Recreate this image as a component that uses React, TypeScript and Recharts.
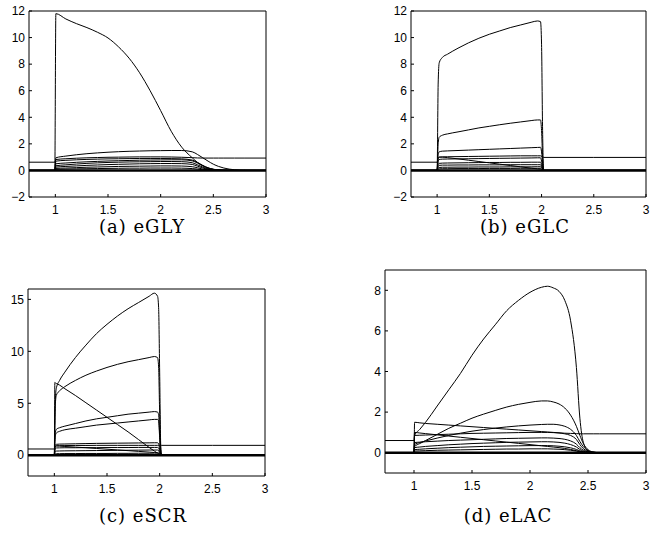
import React from "react";
import { LineChart, Line, XAxis, YAxis, ReferenceLine } from "recharts";

// ---------- shared ticks ----------
const X_TICKS = [1, 1.5, 2, 2.5, 3];
const Y_TICKS_A = [-2, 0, 2, 4, 6, 8, 10, 12];
const Y_TICKS_B = [-2, 0, 2, 4, 6, 8, 10, 12];
const Y_TICKS_C = [0, 5, 10, 15];
const Y_TICKS_D = [0, 2, 4, 6, 8];

// ---------- (a) eGLY ----------
const tA = [0.75, 0.995, 1.005, 1.1, 1.2, 1.3, 1.4, 1.5, 1.6, 1.7, 1.8, 1.9, 2.0, 2.1, 2.2, 2.3, 2.35, 2.4, 2.45, 2.5, 2.55, 2.6, 2.7, 2.8, 3.0];
const aBig = [0, 0, 11.8, 11.4, 11.05, 10.75, 10.4, 9.97, 9.3, 8.45, 7.35, 6.0, 4.5, 2.95, 1.75, 0.95, 0.6, 0.35, 0.18, 0.08, 0.03, 0.01, 0, 0, 0];
const aTop = [0, 0, 0.95, 1.08, 1.18, 1.26, 1.32, 1.37, 1.41, 1.44, 1.46, 1.48, 1.49, 1.5, 1.5, 1.4, 1.2, 0.95, 0.7, 0.47, 0.3, 0.18, 0.05, 0.01, 0];
const aRef = [0.62, 0.62, 0.82, 0.88, 0.92, 0.95, 0.97, 0.99, 1.0, 1.01, 1.02, 1.02, 1.02, 1.01, 0.99, 0.96, 0.94, 0.93, 0.93, 0.93, 0.93, 0.93, 0.93, 0.93, 0.93];
const a2 = [0, 0, 0.7, 0.76, 0.8, 0.83, 0.85, 0.87, 0.88, 0.89, 0.9, 0.9, 0.9, 0.89, 0.87, 0.78, 0.6, 0.38, 0.2, 0.09, 0.04, 0.01, 0, 0, 0];
const a3 = [0, 0, 0.5, 0.56, 0.61, 0.65, 0.68, 0.71, 0.73, 0.75, 0.77, 0.78, 0.79, 0.8, 0.8, 0.72, 0.55, 0.35, 0.18, 0.08, 0.03, 0.01, 0, 0, 0];
const a4 = [0, 0, 0.35, 0.42, 0.48, 0.53, 0.57, 0.6, 0.62, 0.64, 0.65, 0.66, 0.67, 0.67, 0.66, 0.58, 0.42, 0.25, 0.12, 0.05, 0.02, 0, 0, 0, 0];
const a5 = [0, 0, 0.25, 0.3, 0.34, 0.38, 0.41, 0.44, 0.46, 0.48, 0.5, 0.51, 0.52, 0.52, 0.51, 0.45, 0.32, 0.18, 0.08, 0.03, 0.01, 0, 0, 0, 0];
const a6 = [0, 0, 0.15, 0.18, 0.21, 0.24, 0.26, 0.28, 0.3, 0.31, 0.32, 0.33, 0.34, 0.34, 0.33, 0.28, 0.2, 0.1, 0.04, 0.01, 0, 0, 0, 0, 0];
const a7 = [0, 0, 0.08, 0.1, 0.12, 0.13, 0.14, 0.15, 0.16, 0.17, 0.17, 0.18, 0.18, 0.18, 0.17, 0.14, 0.1, 0.05, 0.02, 0, 0, 0, 0, 0, 0];

// ---------- (b) eGLC ----------
const tB = [0.75, 1.0, 1.01, 1.02, 1.05, 1.1, 1.2, 1.3, 1.4, 1.5, 1.6, 1.7, 1.8, 1.9, 1.96, 1.99, 2.0, 2.01, 2.02, 2.5, 3.0];
const bBig = [0, 0, 6.5, 8.1, 8.5, 8.75, 9.2, 9.6, 9.95, 10.25, 10.5, 10.75, 10.95, 11.15, 11.25, 11.2, 9.5, 3, 0, 0, 0];
const b2 = [0, 0, 2.0, 2.5, 2.65, 2.75, 2.9, 3.05, 3.2, 3.32, 3.44, 3.55, 3.65, 3.75, 3.8, 3.8, 3.0, 1.0, 0, 0, 0];
const b3 = [0, 0, 1.2, 1.4, 1.45, 1.47, 1.5, 1.53, 1.56, 1.59, 1.62, 1.65, 1.68, 1.71, 1.73, 1.74, 1.4, 0.5, 0, 0, 0];
const bDiag = [0, 0, 0.95, 1.0, 1.0, 0.96, 0.87, 0.77, 0.67, 0.57, 0.47, 0.37, 0.27, 0.17, 0.12, 0.1, 0.06, 0.02, 0, 0, 0];
const bRef = [0.62, 0.62, 0.9, 1.0, 1.02, 1.03, 1.04, 1.05, 1.06, 1.07, 1.08, 1.09, 1.1, 1.1, 1.1, 1.1, 1.05, 1.0, 0.98, 0.98, 0.98];
const b6 = [0, 0, 0.7, 0.82, 0.85, 0.86, 0.87, 0.88, 0.89, 0.9, 0.91, 0.92, 0.93, 0.94, 0.95, 0.95, 0.7, 0.2, 0, 0, 0];
const b7 = [0, 0, 0.45, 0.53, 0.55, 0.56, 0.57, 0.58, 0.59, 0.6, 0.6, 0.61, 0.61, 0.62, 0.62, 0.62, 0.45, 0.15, 0, 0, 0];
const b8 = [0, 0, 0.3, 0.38, 0.4, 0.4, 0.41, 0.41, 0.42, 0.42, 0.42, 0.43, 0.43, 0.43, 0.43, 0.43, 0.3, 0.1, 0, 0, 0];
const b9 = [0, 0, 0.18, 0.22, 0.24, 0.24, 0.25, 0.25, 0.26, 0.26, 0.26, 0.27, 0.27, 0.27, 0.28, 0.28, 0.2, 0.06, 0, 0, 0];
const b10 = [0, 0, 0.1, 0.12, 0.13, 0.13, 0.14, 0.14, 0.14, 0.15, 0.15, 0.15, 0.16, 0.16, 0.16, 0.16, 0.1, 0.03, 0, 0, 0];

// ---------- (c) eSCR ----------
const tC = [0.75, 1.0, 1.005, 1.01, 1.02, 1.05, 1.1, 1.2, 1.3, 1.4, 1.5, 1.6, 1.7, 1.8, 1.9, 1.95, 1.98, 1.99, 2.0, 2.01, 2.02, 2.5, 3.0];
const cBig = [0, 0, 3.0, 5.5, 6.5, 7.2, 8.0, 9.4, 10.6, 11.7, 12.6, 13.4, 14.1, 14.7, 15.3, 15.6, 15.3, 14.2, 8, 1, 0, 0, 0];
const c2 = [0, 0, 3.0, 5.0, 5.8, 6.2, 6.6, 7.2, 7.7, 8.1, 8.45, 8.75, 9.0, 9.2, 9.4, 9.5, 9.4, 8.5, 4, 0.5, 0, 0, 0];
const cDiag = [0, 0, 7.0, 6.95, 6.9, 6.75, 6.4, 5.75, 5.05, 4.35, 3.65, 2.95, 2.25, 1.5, 0.75, 0.4, 0.2, 0.12, 0.05, 0.02, 0, 0, 0];
const c3 = [0, 0, 1.5, 2.2, 2.5, 2.65, 2.8, 3.05, 3.3, 3.5, 3.65, 3.8, 3.95, 4.05, 4.15, 4.2, 4.15, 3.9, 2, 0.2, 0, 0, 0];
const c4 = [0, 0, 1.3, 1.9, 2.15, 2.3, 2.45, 2.6, 2.75, 2.9, 3.0, 3.1, 3.2, 3.3, 3.4, 3.45, 3.45, 3.3, 1.7, 0.2, 0, 0, 0];
const c5 = [0, 0, 0.8, 1.0, 1.05, 1.07, 1.08, 1.1, 1.12, 1.14, 1.15, 1.16, 1.17, 1.18, 1.19, 1.2, 1.2, 1.1, 0.6, 0.05, 0, 0, 0];
const cRef = [0.6, 0.6, 0.75, 0.85, 0.9, 0.92, 0.93, 0.94, 0.94, 0.95, 0.95, 0.95, 0.95, 0.95, 0.95, 0.95, 0.95, 0.95, 0.95, 0.95, 0.95, 0.95, 0.95];
const c7 = [0, 0, 0.5, 0.65, 0.7, 0.71, 0.72, 0.72, 0.73, 0.73, 0.74, 0.74, 0.74, 0.75, 0.75, 0.75, 0.75, 0.7, 0.35, 0.03, 0, 0, 0];
const c8 = [0, 0, 0.6, 0.85, 0.9, 0.88, 0.84, 0.78, 0.72, 0.65, 0.58, 0.51, 0.44, 0.37, 0.3, 0.26, 0.24, 0.22, 0.1, 0.01, 0, 0, 0];
const c9 = [0, 0, 0.25, 0.38, 0.4, 0.41, 0.42, 0.43, 0.44, 0.45, 0.46, 0.47, 0.48, 0.49, 0.5, 0.5, 0.5, 0.45, 0.2, 0.02, 0, 0, 0];
const c10 = [0, 0, 0.1, 0.14, 0.15, 0.15, 0.16, 0.16, 0.17, 0.17, 0.17, 0.18, 0.18, 0.19, 0.19, 0.2, 0.2, 0.18, 0.08, 0.01, 0, 0, 0];

// ---------- (d) eLAC ----------
const tD = [0.75, 1.0, 1.005, 1.05, 1.1, 1.2, 1.3, 1.4, 1.5, 1.6, 1.7, 1.8, 1.9, 2.0, 2.1, 2.15, 2.2, 2.25, 2.3, 2.35, 2.4, 2.43, 2.46, 2.5, 2.55, 2.6, 3.0];
const dBig = [0, 0, 0.85, 1.15, 1.5, 2.3, 3.1, 3.9, 4.8, 5.6, 6.3, 7.0, 7.5, 7.9, 8.15, 8.2, 8.12, 7.95, 7.5, 6.5, 4.2, 1.7, 0.5, 0.1, 0.02, 0, 0];
const d2 = [0, 0, 0.3, 0.45, 0.6, 0.9, 1.2, 1.45, 1.7, 1.9, 2.08, 2.25, 2.38, 2.48, 2.55, 2.55, 2.5, 2.4, 2.2, 1.85, 1.3, 0.85, 0.45, 0.15, 0.03, 0, 0];
const d3 = [0, 0, 0.4, 0.5, 0.58, 0.72, 0.85, 0.96, 1.06, 1.14, 1.21, 1.27, 1.32, 1.36, 1.39, 1.4, 1.4, 1.37, 1.3, 1.15, 0.85, 0.55, 0.3, 0.1, 0.02, 0, 0];
const dDesc = [0, 0, 1.5, 1.47, 1.44, 1.4, 1.36, 1.32, 1.28, 1.24, 1.2, 1.16, 1.12, 1.08, 1.04, 1.02, 1.0, 0.98, 0.96, 0.95, 0.94, 0.93, 0.93, 0.93, 0.93, 0.93, 0.93];
const dRef = [0.6, 0.6, 1.0, 0.97, 0.94, 0.88, 0.82, 0.76, 0.7, 0.64, 0.58, 0.52, 0.46, 0.4, 0.34, 0.31, 0.28, 0.25, 0.21, 0.16, 0.1, 0.06, 0.03, 0.01, 0, 0, 0];
const d6 = [0, 0, 0.85, 0.86, 0.87, 0.89, 0.91, 0.93, 0.95, 0.96, 0.97, 0.98, 0.99, 1.0, 1.0, 1.0, 0.99, 0.97, 0.93, 0.85, 0.65, 0.4, 0.2, 0.06, 0.01, 0, 0];
const d7 = [0, 0, 0.5, 0.52, 0.54, 0.57, 0.6, 0.62, 0.64, 0.66, 0.68, 0.7, 0.71, 0.72, 0.73, 0.73, 0.72, 0.7, 0.66, 0.58, 0.42, 0.25, 0.12, 0.04, 0.01, 0, 0];
const d8 = [0, 0, 0.25, 0.28, 0.31, 0.35, 0.39, 0.42, 0.45, 0.47, 0.49, 0.51, 0.52, 0.53, 0.54, 0.54, 0.53, 0.51, 0.47, 0.4, 0.28, 0.16, 0.07, 0.02, 0, 0, 0];
const d9 = [0, 0, 0.15, 0.17, 0.19, 0.22, 0.25, 0.27, 0.29, 0.31, 0.32, 0.33, 0.34, 0.35, 0.35, 0.35, 0.34, 0.32, 0.29, 0.24, 0.16, 0.09, 0.04, 0.01, 0, 0, 0];
const d10 = [0, 0, 0.08, 0.09, 0.1, 0.12, 0.13, 0.14, 0.15, 0.16, 0.17, 0.18, 0.18, 0.19, 0.19, 0.19, 0.18, 0.17, 0.15, 0.12, 0.08, 0.04, 0.02, 0, 0, 0, 0];

type Box = { x: number; y: number; w: number; h: number };

const TICK_STYLE = { fontFamily: "'Liberation Sans', Arial, sans-serif", fontSize: 12, fill: "#000" };
const fmt = (v: number) => String(v).replace("-", "\u2212");
const AXIS_LINE = { stroke: "#000", strokeWidth: 1 };
const TICK_LINE = { stroke: "#000", strokeWidth: 1 };

function Panel(props: {
  box: Box;
  t: number[];
  series: number[][];
  yDomain: [number, number];
  yTicks: number[];
  title: string;
  titleX: number;
  titleY: number;
}) {
  const { box, t, series, yDomain, yTicks, title, titleX, titleY } = props;
  // outer margins; bottom and left axes each take 1px
  const L = 40, T = 12, R = 12, B = 30;
  const rows = t.map((x, i) => {
    const r: Record<string, number> = { t: x };
    series.forEach((s, k) => {
      r["s" + k] = s[i];
    });
    return r;
  });
  return (
    <>
      <div style={{ position: "absolute", left: box.x - L, top: box.y - T }}>
        <LineChart
          width={box.w + L + R}
          height={box.h + T + B}
          data={rows}
          margin={{ top: T, right: R, bottom: B - 1, left: L - 1 }}
        >
          <XAxis
            xAxisId="b"
            dataKey="t"
            type="number"
            domain={[0.75, 3]}
            allowDataOverflow
            ticks={X_TICKS}
            height={1}
            tickSize={-3}
            tickMargin={11}
            tick={TICK_STYLE}
            tickFormatter={fmt}
            axisLine={AXIS_LINE}
            tickLine={TICK_LINE}
            interval={0}
          />
          <XAxis
            xAxisId="t"
            dataKey="t"
            type="number"
            orientation="top"
            mirror
            domain={[0.75, 3]}
            allowDataOverflow
            ticks={X_TICKS}
            height={1}
            tickSize={3}
            tick={false}
            axisLine={AXIS_LINE}
            tickLine={TICK_LINE}
            interval={0}
          />
          <YAxis
            yAxisId="l"
            type="number"
            domain={yDomain}
            allowDataOverflow
            ticks={yTicks}
            width={1}
            tickSize={-3}
            tickMargin={7}
            tick={TICK_STYLE}
            tickFormatter={fmt}
            axisLine={AXIS_LINE}
            tickLine={TICK_LINE}
            interval={0}
          />
          <YAxis
            yAxisId="r"
            type="number"
            orientation="right"
            mirror
            domain={yDomain}
            allowDataOverflow
            ticks={yTicks}
            width={1}
            tickSize={3}
            tick={false}
            axisLine={AXIS_LINE}
            tickLine={TICK_LINE}
            interval={0}
          />
          <ReferenceLine xAxisId="b" yAxisId="l" y={0} stroke="#000" strokeWidth={2.5} />
          {series.map((_, k) => (
            <Line
              key={k}
              xAxisId="b"
              yAxisId="l"
              dataKey={"s" + k}
              type="monotone"
              stroke="#000"
              strokeWidth={1}
              dot={false}
              activeDot={false}
              isAnimationActive={false}
            />
          ))}
        </LineChart>
      </div>
      <div
        style={{
          position: "absolute",
          left: titleX - 100,
          width: 200,
          top: titleY,
          textAlign: "center",
          fontFamily: "'DejaVu Serif', serif",
          fontSize: 18,
          letterSpacing: 1,
          lineHeight: "20px",
          color: "#000",
          whiteSpace: "nowrap",
        }}
      >
        {title}
      </div>
    </>
  );
}

export default function App() {
  return (
    <div style={{ position: "absolute", left: 0, top: 0, width: 663, height: 536, background: "#fff", overflow: "hidden" }}>
      <Panel
        box={{ x: 29, y: 11, w: 237, h: 186 }}
        t={tA}
        series={[aBig, aTop, aRef, a2, a3, a4, a5, a6, a7]}
        yDomain={[-2, 12]}
        yTicks={Y_TICKS_A}
        title="(a) eGLY"
        titleX={142}
        titleY={217}
      />
      <Panel
        box={{ x: 411, y: 11, w: 235, h: 186 }}
        t={tB}
        series={[bBig, b2, b3, bDiag, bRef, b6, b7, b8, b9, b10]}
        yDomain={[-2, 12]}
        yTicks={Y_TICKS_B}
        title="(b) eGLC"
        titleX={525}
        titleY={217}
      />
      <Panel
        box={{ x: 28, y: 289, w: 237, h: 187 }}
        t={tC}
        series={[cBig, c2, cDiag, c3, c4, c5, cRef, c7, c8, c9, c10]}
        yDomain={[-2, 16]}
        yTicks={Y_TICKS_C}
        title="(c) eSCR"
        titleX={143}
        titleY={506}
      />
      <Panel
        box={{ x: 385, y: 270, w: 261, h: 203 }}
        t={tD}
        series={[dBig, d2, d3, dDesc, dRef, d6, d7, d8, d9, d10]}
        yDomain={[-1, 9]}
        yTicks={Y_TICKS_D}
        title="(d) eLAC"
        titleX={508}
        titleY={506}
      />
    </div>
  );
}
